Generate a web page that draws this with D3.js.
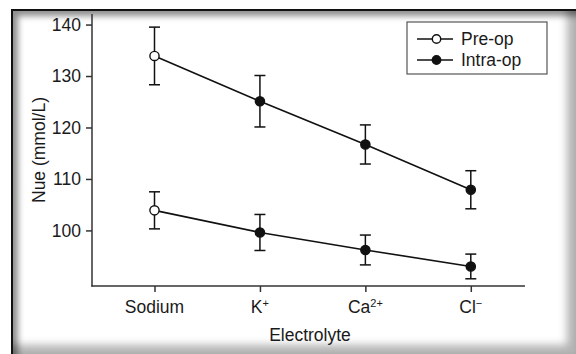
<!DOCTYPE html>
<html>
<head>
<meta charset="utf-8">
<script src="https://cdn.jsdelivr.net/npm/d3@7"></script>
<style>
  body { margin: 0; background: #fff; }
  #wrap { position: relative; width: 576px; height: 354px; overflow: hidden; background: #fff; }
  #frame {
    position: absolute; left: 11px; top: 9px; width: 565px; height: 345px;
    box-sizing: border-box;
    border-left: 2px solid #111; border-top: 2px solid #111;
    box-shadow: inset 5px 5px 6px rgba(0,0,0,0.45), inset -14px -14px 8px -5px rgba(0,0,0,0.3);
  }
  #chart { position: absolute; left: 0; top: 0; }
  text { font-family: "Liberation Sans", Arial, sans-serif; fill: #1a1a1a; }
</style>
</head>
<body>
<div id="wrap">
  <div id="frame"></div>
  <div id="chart"></div>
</div>
<script>
// electrolytes on the x axis
const categories = ['Sodium', 'K', 'Ca', 'Cl'];
const catSup = ['', '+', '2+', '\u2212'];
// phase of each point (first point is pre-op, rest intra-op)
const phases = ['Pre-op', 'Intra-op', 'Intra-op', 'Intra-op'];

// upper curve
const upperMean = [133.9, 125.1, 116.7, 107.9];
const upperErr = [5.6, 5.0, 3.8, 3.7];
// lower curve
const lowerMean = [103.9, 99.6, 96.2, 93.0];
const lowerErr = [3.6, 3.5, 2.9, 2.4];

const yTicks = [100, 110, 120, 130, 140];
const legendItems = ['Pre-op', 'Intra-op'];

const fs = 17.5;

const svg = d3.select('#chart').append('svg')
  .attr('width', 576)
  .attr('height', 354);

const x = d3.scalePoint().domain(categories).range([154.5, 470.8]);
const y = d3.scaleLinear().domain([89.2, 142.05]).range([286, 14]);

const axisColor = '#333';

// axes
const yAxis = svg.append('g')
  .attr('transform', 'translate(92,0)')
  .call(d3.axisLeft(y).tickValues(yTicks).tickSize(6).tickSizeOuter(0).tickPadding(5));
const xAxis = svg.append('g')
  .attr('transform', 'translate(0,286)')
  .call(d3.axisBottom(x).tickSize(6).tickSizeOuter(0).tickFormat('').tickPadding(8));

[yAxis, xAxis].forEach(g => {
  g.select('.domain').remove();
  g.selectAll('.tick line').attr('stroke', axisColor).attr('stroke-width', 1.5);
});
yAxis.selectAll('.tick text')
  .attr('font-size', fs).attr('fill', '#1a1a1a')
  .attr('font-family', '"Liberation Sans", Arial, sans-serif');

svg.append('line').attr('x1', 92).attr('x2', 92).attr('y1', y.range()[1]).attr('y2', 286.5)
  .attr('stroke', axisColor).attr('stroke-width', 1.5);
svg.append('line').attr('x1', 91.25).attr('x2', 525).attr('y1', 286).attr('y2', 286)
  .attr('stroke', axisColor).attr('stroke-width', 1.5);

// x tick labels with superscripts
const xl = svg.append('g');
categories.forEach((c, i) => {
  const t = xl.append('text')
    .attr('x', x(c))
    .attr('y', 313)
    .attr('text-anchor', 'middle')
    .attr('font-size', fs);
  t.append('tspan').text(c);
  if (catSup[i]) {
    t.append('tspan').attr('dy', -6).attr('font-size', 11).text(catSup[i]);
  }
});

// axis titles
svg.append('text')
  .attr('x', 310).attr('y', 341)
  .attr('text-anchor', 'middle')
  .attr('font-size', fs)
  .text('Electrolyte');
svg.append('text')
  .attr('transform', 'translate(45,150) rotate(-90)')
  .attr('text-anchor', 'middle')
  .attr('font-size', fs)
  .text('Nue (mmol/L)');

// series
const line = d3.line().x(d => x(d.cat)).y(d => y(d.mean));
const series = [upperMean, lowerMean].map((means, s) => means.map((m, i) => ({
  cat: categories[i],
  mean: m,
  err: (s === 0 ? upperErr : lowerErr)[i],
  phase: phases[i]
})));

series.forEach(data => {
  const g = svg.append('g');
  g.append('path').datum(data)
    .attr('d', line)
    .attr('fill', 'none')
    .attr('stroke', '#111')
    .attr('stroke-width', 1.6);

  const eb = g.selectAll('.eb').data(data).enter().append('g').attr('class', 'eb');
  eb.append('line')
    .attr('x1', d => x(d.cat)).attr('x2', d => x(d.cat))
    .attr('y1', d => y(d.mean + d.err)).attr('y2', d => y(d.mean - d.err))
    .attr('stroke', '#111').attr('stroke-width', 1.5);
  [1, -1].forEach(sgn => {
    eb.append('line')
      .attr('x1', d => x(d.cat) - 5.5).attr('x2', d => x(d.cat) + 5.5)
      .attr('y1', d => y(d.mean + sgn * d.err)).attr('y2', d => y(d.mean + sgn * d.err))
      .attr('stroke', '#111').attr('stroke-width', 1.5);
  });

  g.selectAll('circle').data(data).enter().append('circle')
    .attr('cx', d => x(d.cat))
    .attr('cy', d => y(d.mean))
    .attr('r', 4.6)
    .attr('fill', d => d.phase === 'Pre-op' ? '#fff' : '#111')
    .attr('stroke', '#111')
    .attr('stroke-width', 1.4);
});

// legend
const lg = svg.append('g').attr('transform', 'translate(407,22)');
lg.append('rect').attr('width', 140).attr('height', 52)
  .attr('fill', '#fff').attr('stroke', '#555').attr('stroke-width', 1.2);
legendItems.forEach((name, i) => {
  const yy = 17 + i * 21;
  lg.append('line').attr('x1', 10).attr('x2', 46).attr('y1', yy).attr('y2', yy)
    .attr('stroke', '#111').attr('stroke-width', 1.6);
  lg.append('circle').attr('cx', 29.5).attr('cy', yy).attr('r', 4.2)
    .attr('fill', name === 'Pre-op' ? '#fff' : '#111')
    .attr('stroke', '#111').attr('stroke-width', 1.4);
  lg.append('text').attr('x', 54).attr('y', yy + 6)
    .attr('font-size', fs).text(name);
});
</script>
</body>
</html>
